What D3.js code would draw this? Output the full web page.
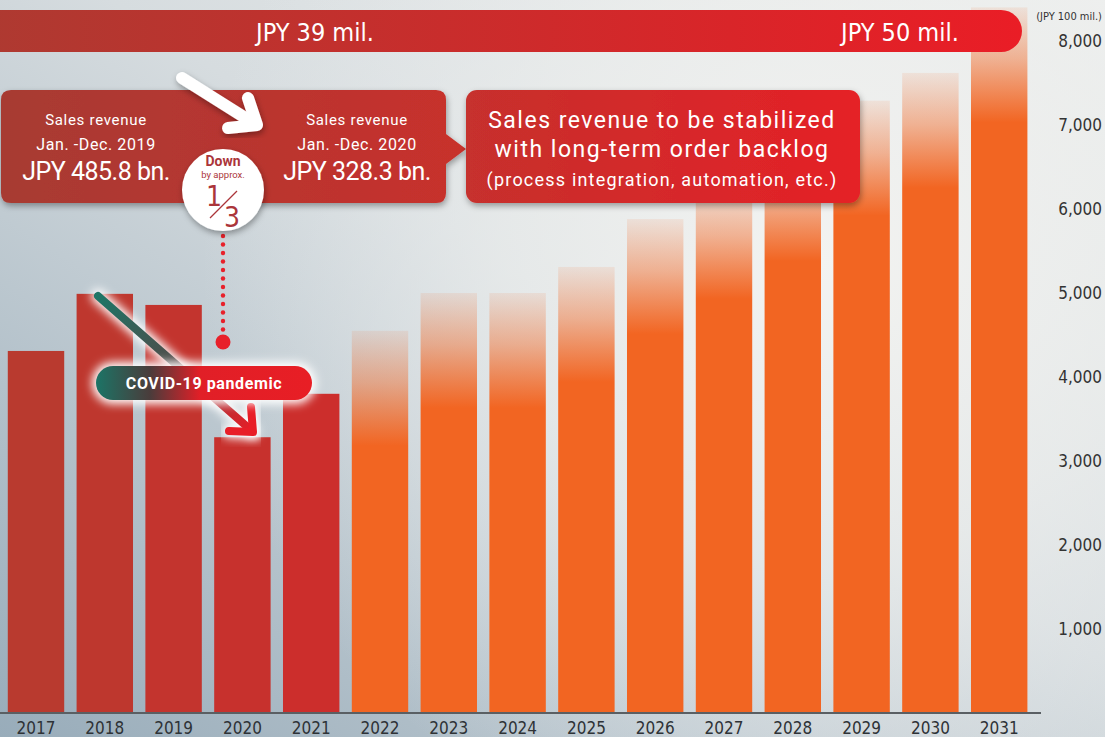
<!DOCTYPE html>
<html>
<head>
<title>Sales revenue</title>
<style>
  html, body { margin: 0; padding: 0; }
  svg { display: block; }
  .cond { font-family: "Liberation Sans Narrow", "DejaVu Sans Condensed", "DejaVu Sans", sans-serif; }
  .din { font-family: "Roboto", "Noto Sans", sans-serif; }
</style>
</head>
<body>
<svg id="svg" width="1105" height="737"></svg>
<script src="https://d3js.org/d3.v7.min.js"></script>
<script>
  // revenue in JPY 100 mil., actual 2017-2021, plan 2022-2031
  const years = ['2017','2018','2019','2020','2021','2022','2023','2024','2025','2026','2027','2028','2029','2030','2031']
  const revenue = [4310, 4990, 4858, 3283, 3800, 4550, 5000, 5000, 5310, 5880, 6300, 6750, 7290, 7620, 8400]
  const actualYears = ['2017','2018','2019','2020','2021']
  const yTicks = [1000, 2000, 3000, 4000, 5000, 6000, 7000, 8000]
  const unitLabel = '(JPY 100 mil.)'
  const bannerLabels = ['JPY 39 mil.', 'JPY 50 mil.']

  const data = years.map((y, i) => ({ year: y, value: revenue[i], actual: actualYears.includes(y) }))

  const svg = d3.select('#svg')
  const W = 1105, H = 737
  const baseY = 713

  const x = d3.scaleBand()
    .domain(years)
    .range([1.6, 1033.6])
    .paddingInner(0.18)
    .paddingOuter(0.09)

  const y = d3.scaleLinear()
    .domain([0, 8000])
    .range([baseY, baseY - 8 * 84])

  const defs = svg.append('defs')

  // background
  const bg = defs.append('linearGradient').attr('id', 'bg').attr('x1', 0).attr('y1', 1).attr('x2', 1).attr('y2', 0)
  bg.append('stop').attr('offset', 0).attr('stop-color', '#98acba')
  bg.append('stop').attr('offset', 0.55).attr('stop-color', '#d6dcdf')
  bg.append('stop').attr('offset', 1).attr('stop-color', '#f1f1ef')
  const glowBg = defs.append('radialGradient').attr('id', 'glowbg')
    .attr('gradientUnits', 'userSpaceOnUse').attr('cx', 820).attr('cy', 260).attr('r', 620)
  glowBg.append('stop').attr('offset', 0).attr('stop-color', '#f3f3f1').attr('stop-opacity', 1)
  glowBg.append('stop').attr('offset', 0.5).attr('stop-color', '#eceeed').attr('stop-opacity', 0.7)
  glowBg.append('stop').attr('offset', 1).attr('stop-color', '#e6eaec').attr('stop-opacity', 0)

  svg.append('rect').attr('width', W).attr('height', H).attr('fill', 'url(#bg)')
  svg.append('rect').attr('width', W).attr('height', H).attr('fill', 'url(#glowbg)')

  // filters
  const shadow = defs.append('filter').attr('id', 'shadow').attr('x', '-20%').attr('y', '-20%').attr('width', '140%').attr('height', '140%')
  shadow.append('feDropShadow').attr('dx', 1).attr('dy', 3).attr('stdDeviation', 3).attr('flood-color', '#000').attr('flood-opacity', 0.35)
  const glow = defs.append('filter').attr('id', 'glow').attr('x', '-30%').attr('y', '-60%').attr('width', '160%').attr('height', '220%')
  glow.append('feGaussianBlur').attr('stdDeviation', 5)

  // bars
  const redScale = d3.scaleLinear().domain([0, actualYears.length - 1]).range(['#b93a2f', '#cc2e2c'])
  data.filter(d => !d.actual).forEach(d => {
    const g = defs.append('linearGradient').attr('id', 'fade' + d.year)
      .attr('gradientUnits', 'userSpaceOnUse')
      .attr('x1', 0).attr('x2', 0).attr('y1', y(d.value)).attr('y2', y(d.value) + 115)
    g.append('stop').attr('offset', 0).attr('stop-color', '#f26522').attr('stop-opacity', 0.1)
    g.append('stop').attr('offset', 0.45).attr('stop-color', '#f26522').attr('stop-opacity', 0.45)
    g.append('stop').attr('offset', 1).attr('stop-color', '#f26522').attr('stop-opacity', 1)
  })

  svg.append('g')
    .selectAll('rect')
    .data(data)
    .enter()
    .append('rect')
    .attr('x', d => x(d.year))
    .attr('y', d => y(d.value))
    .attr('width', x.bandwidth())
    .attr('height', d => baseY - y(d.value))
    .attr('fill', (d, i) => d.actual ? redScale(i) : `url(#fade${d.year})`)

  // x axis
  svg.append('line').attr('x1', 0).attr('x2', 1041).attr('y1', baseY).attr('y2', baseY)
    .attr('stroke', '#5a5f63').attr('stroke-width', 2)
  const xAxis = svg.append('g')
    .attr('transform', `translate(0, ${baseY})`)
    .call(d3.axisBottom(x).tickSize(0).tickPadding(9))
  xAxis.select('.domain').remove()
  xAxis.selectAll('text').attr('class', 'cond').attr('font-size', 17).attr('fill', '#2e3236')

  // y axis on the right
  const yAxis = svg.append('g')
    .attr('transform', 'translate(1102, 0)')
    .call(d3.axisRight(y).tickValues(yTicks).tickFormat(d3.format(',')).tickSize(0).tickPadding(0))
  yAxis.select('.domain').remove()
  yAxis.selectAll('text').attr('class', 'cond').attr('text-anchor', 'end').attr('font-size', 17).attr('fill', '#333')
  svg.append('text').attr('class', 'cond').attr('x', 1102).attr('y', 20).attr('text-anchor', 'end')
    .attr('font-size', 11).attr('fill', '#333').text(unitLabel)

  // top banner
  const bannerG = defs.append('linearGradient').attr('id', 'banner')
  bannerG.append('stop').attr('offset', 0).attr('stop-color', '#ad3a31')
  bannerG.append('stop').attr('offset', 1).attr('stop-color', '#ea1d26')
  svg.append('rect').attr('x', -30).attr('y', 10).attr('width', 1052).attr('height', 42).attr('rx', 21)
    .attr('fill', 'url(#banner)')
  svg.selectAll('.banner-label')
    .data(bannerLabels)
    .enter()
    .append('text')
    .attr('class', 'cond')
    .attr('x', (d, i) => [315, 900][i])
    .attr('y', 41)
    .attr('text-anchor', 'middle')
    .attr('font-size', 25)
    .attr('fill', '#fff')
    .text(d => d)

  // left callout (2019 / 2020)
  const leftG = defs.append('linearGradient').attr('id', 'leftbox')
  leftG.append('stop').attr('offset', 0).attr('stop-color', '#a73b33')
  leftG.append('stop').attr('offset', 1).attr('stop-color', '#c8302c')
  const lb = d3.path()
  lb.moveTo(11, 90); lb.lineTo(436, 90); lb.quadraticCurveTo(446, 90, 446, 100)
  lb.lineTo(446, 134); lb.lineTo(466, 149); lb.lineTo(446, 164)
  lb.lineTo(446, 193); lb.quadraticCurveTo(446, 203, 436, 203)
  lb.lineTo(11, 203); lb.quadraticCurveTo(1, 203, 1, 193)
  lb.lineTo(1, 100); lb.quadraticCurveTo(1, 90, 11, 90); lb.closePath()
  svg.append('path').attr('d', lb.toString()).attr('fill', 'url(#leftbox)').attr('filter', 'url(#shadow)')

  const boxText = [
    { cx: 96, lines: ['Sales revenue', 'Jan. -Dec. 2019', 'JPY 485.8 bn.'] },
    { cx: 357, lines: ['Sales revenue', 'Jan. -Dec. 2020', 'JPY 328.3 bn.'] }
  ]
  boxText.forEach(b => {
    const t = svg.append('g').attr('class', 'din').attr('fill', '#fff').attr('text-anchor', 'middle')
    t.append('text').attr('x', b.cx).attr('y', 125).attr('font-size', 15).attr('letter-spacing', 0.7).text(b.lines[0])
    t.append('text').attr('x', b.cx).attr('y', 150).attr('font-size', 16).attr('letter-spacing', 0.6).text(b.lines[1])
    t.append('text').attr('x', b.cx).attr('y', 180).attr('font-size', 25).attr('letter-spacing', -0.5).text(b.lines[2])
  })

  // right callout
  const rightG = defs.append('linearGradient').attr('id', 'rightbox')
  rightG.append('stop').attr('offset', 0).attr('stop-color', '#c6302d')
  rightG.append('stop').attr('offset', 1).attr('stop-color', '#e52127')
  svg.append('rect').attr('x', 466).attr('y', 90).attr('width', 394).attr('height', 113).attr('rx', 11)
    .attr('fill', 'url(#rightbox)').attr('filter', 'url(#shadow)')
  const rt = svg.append('g').attr('class', 'din').attr('fill', '#fff').attr('text-anchor', 'middle')
  rt.append('text').attr('x', 662).attr('y', 128).attr('font-size', 23).attr('letter-spacing', 1.5).text('Sales revenue to be stabilized')
  rt.append('text').attr('x', 662).attr('y', 157).attr('font-size', 23).attr('letter-spacing', 1.5).text('with long-term order backlog')
  rt.append('text').attr('x', 662).attr('y', 186).attr('font-size', 18).attr('letter-spacing', 1.2).text('(process integration, automation, etc.)')

  // white arrow
  const wa = svg.append('g').attr('filter', 'url(#shadow)')
    .attr('stroke', '#fff').attr('stroke-width', 12).attr('stroke-linecap', 'round').attr('stroke-linejoin', 'round').attr('fill', 'none')
  wa.append('line').attr('x1', 182).attr('y1', 78).attr('x2', 255).attr('y2', 124)
  wa.append('polyline').attr('points', '228,128 257,125 248,98')

  // down by approx 1/3 circle
  const dotY = d3.range(236, 334, 8.5)
  svg.append('g').selectAll('circle').data(dotY).enter().append('circle')
    .attr('cx', 223).attr('cy', d => d).attr('r', 2.2).attr('fill', '#e8202a')
  svg.append('circle').attr('cx', 223).attr('cy', 342).attr('r', 7.5).attr('fill', '#e8202a')
  svg.append('circle').attr('cx', 223).attr('cy', 190).attr('r', 41).attr('fill', '#fff').attr('filter', 'url(#shadow)')
  const ct = svg.append('g').attr('class', 'din').attr('fill', '#ab353a').attr('text-anchor', 'middle')
  ct.append('text').attr('x', 223).attr('y', 166).attr('font-size', 14).attr('font-weight', 'bold').text('Down')
  ct.append('text').attr('x', 223).attr('y', 178).attr('font-size', 9.5).text('by approx.')
  ct.append('text').attr('class', 'cond').attr('x', 214).attr('y', 206).attr('font-size', 28).text('1')
  ct.append('text').attr('class', 'cond').attr('x', 232).attr('y', 227).attr('font-size', 28).text('3')
  svg.append('line').attr('x1', 210).attr('y1', 218).attr('x2', 237).attr('y2', 191)
    .attr('stroke', '#ab353a').attr('stroke-width', 1.2)

  // covid arrow
  const covG = defs.append('linearGradient').attr('id', 'covarrow').attr('gradientUnits', 'userSpaceOnUse')
    .attr('x1', 98).attr('y1', 296).attr('x2', 253).attr('y2', 432)
  covG.append('stop').attr('offset', 0).attr('stop-color', '#1e7566')
  covG.append('stop').attr('offset', 0.45).attr('stop-color', '#4c4f4c')
  covG.append('stop').attr('offset', 0.75).attr('stop-color', '#b03035')
  covG.append('stop').attr('offset', 1).attr('stop-color', '#e81e27')
  const arrowPts = [[98, 296], [252, 431]]
  const headPts = '229,431 253,432 251,407'
  svg.append('line').attr('x1', arrowPts[0][0]).attr('y1', arrowPts[0][1]).attr('x2', arrowPts[1][0]).attr('y2', arrowPts[1][1])
    .attr('stroke', '#fff').attr('stroke-width', 14).attr('stroke-linecap', 'round').attr('filter', 'url(#glow)')
  svg.append('polyline').attr('points', headPts).attr('fill', 'none')
    .attr('stroke', '#fff').attr('stroke-width', 14).attr('stroke-linecap', 'round').attr('filter', 'url(#glow)')
  svg.append('line').attr('x1', arrowPts[0][0]).attr('y1', arrowPts[0][1]).attr('x2', arrowPts[1][0]).attr('y2', arrowPts[1][1])
    .attr('stroke', 'url(#covarrow)').attr('stroke-width', 8).attr('stroke-linecap', 'round')
  svg.append('polyline').attr('points', headPts).attr('fill', 'none')
    .attr('stroke', '#e81e27').attr('stroke-width', 8).attr('stroke-linecap', 'round').attr('stroke-linejoin', 'round')

  // covid pill
  const pillG = defs.append('linearGradient').attr('id', 'pill')
  pillG.append('stop').attr('offset', 0).attr('stop-color', '#1c7466')
  pillG.append('stop').attr('offset', 0.25).attr('stop-color', '#4a3c3b')
  pillG.append('stop').attr('offset', 0.48).attr('stop-color', '#e11f27')
  pillG.append('stop').attr('offset', 1).attr('stop-color', '#e81e25')
  svg.append('rect').attr('x', 92).attr('y', 362).attr('width', 224).attr('height', 42).attr('rx', 21)
    .attr('fill', '#fff').attr('filter', 'url(#glow)')
  svg.append('rect').attr('x', 96).attr('y', 366).attr('width', 216).attr('height', 34).attr('rx', 17)
    .attr('fill', 'url(#pill)')
  svg.append('text').attr('class', 'din').attr('x', 204).attr('y', 389).attr('text-anchor', 'middle')
    .attr('font-size', 16).attr('font-weight', 'bold').attr('letter-spacing', 0.6).attr('fill', '#fff').text('COVID-19 pandemic')
</script>
</body>
</html>
